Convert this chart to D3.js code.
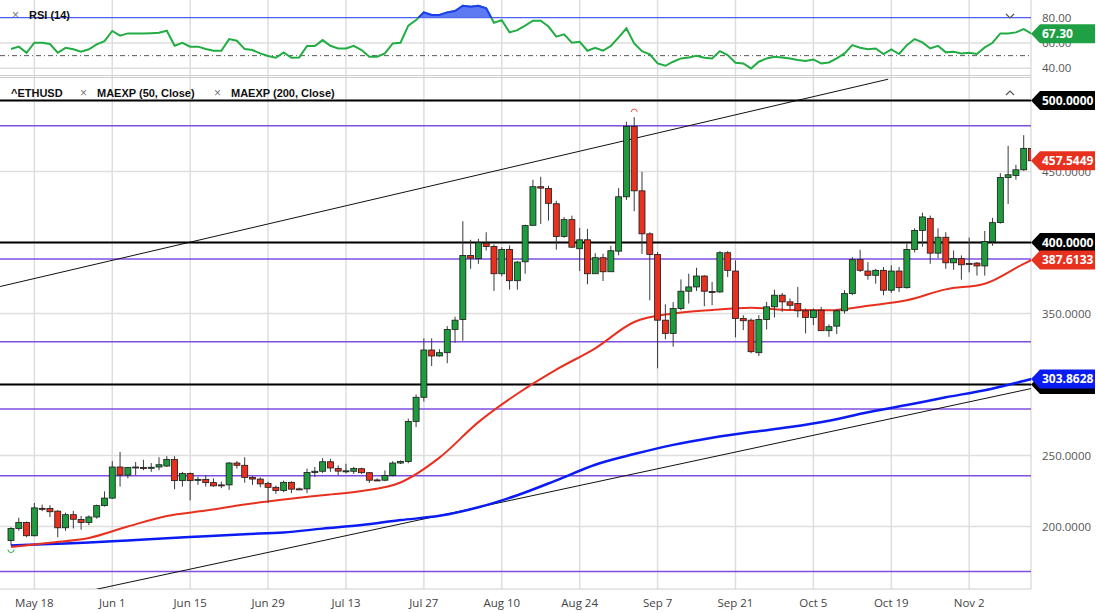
<!DOCTYPE html>
<html>
<head>
<meta charset="utf-8">
<script src="https://cdn.jsdelivr.net/npm/d3@7"></script>
<style>
  body { margin: 0; background: #fff; }
  svg { display: block; }
</style>
</head>
<body>
<div id="chart"></div>
<script>
// ETHUSD daily (weekdays), May 13 - Nov 12 2020
const firstDay = "2020-05-13", lastDay = "2020-11-13";
const tickLabels = ["May 18", "Jun 1", "Jun 15", "Jun 29", "Jul 13", "Jul 27", "Aug 10",
  "Aug 24", "Sep 7", "Sep 21", "Oct 5", "Oct 19", "Nov 2"];

const opens = [190.1,198.6,202.8,193.5,212.8,212.7,210.8,199.1,208.3,205.0,
  202.8,206.7,214.7,220.0,241.9,236.2,241.5,241.5,241.3,241.9,
  242.6,247.2,232.3,237.3,233.0,233.2,230.9,229.3,229.3,244.7,
  243.1,234.6,233.4,230.4,227.6,225.3,231.1,226.5,226.5,238.0,
  238.9,245.6,240.8,238.9,238.9,240.7,237.9,232.8,232.6,236.0,
  244.7,245.8,274.0,291.0,324.3,320.1,322.4,338.8,345.8,390.9,
  388.6,399.5,397.2,378.0,395.1,373.1,386.4,412.1,439.3,438.1,
  427.3,404.2,416.1,395.6,401.9,378.0,389.3,379.4,393.9,432.2,
  481.8,436.4,406.1,391.6,345.3,336.0,353.5,365.7,368.7,376.4,
  365.5,365.2,392.8,379.9,346.5,345.3,322.4,345.8,354.7,362.9,
  358.2,357.0,351.9,347.2,352.3,337.9,341.1,351.9,364.0,387.9,
  379.9,376.9,380.4,366.4,379.9,368.2,395.1,408.5,417.0,392.5,
  403.7,385.7,388.6,385.3,385.5,383.5,400.7,414.0,445.8,447.2,
  451.2,466.3];
const highs = [199.5,206.2,203.5,216.6,215.4,215.0,211.5,209.7,211.0,207.4,
  207.8,215.4,224.7,246.0,252.5,242.0,245.4,247.0,244.7,248.8,
  249.5,249.5,238.5,238.0,235.0,236.2,233.9,231.6,245.4,246.1,
  248.8,235.5,234.6,231.6,228.8,232.3,231.8,227.4,240.8,241.9,
  248.2,247.7,243.1,244.2,242.0,241.4,238.4,233.9,239.5,246.0,
  246.5,276.0,293.0,332.5,332.5,324.8,341.1,347.7,415.0,401.9,
  402.6,407.2,398.6,396.7,397.9,386.9,412.6,444.2,446.3,440.0,
  429.4,417.8,418.9,410.3,409.6,392.5,392.1,397.7,438.3,485.0,
  488.3,449.8,407.2,393.2,356.5,358.0,374.0,378.0,382.2,376.9,
  372.2,393.9,393.9,387.4,348.8,346.5,348.8,358.2,366.8,364.5,
  360.5,368.7,353.5,353.5,354.7,342.3,352.8,366.4,389.7,394.9,
  386.2,381.5,382.7,383.9,382.7,399.1,410.0,421.0,419.0,410.0,
  407.2,394.4,390.9,403.5,386.2,408.1,417.4,448.8,468.1,454.7,
  475.6,470.0];
const lows = [186.6,197.0,192.4,193.0,210.8,206.7,192.4,197.0,198.6,197.7,
  200.9,205.5,214.0,219.4,228.1,233.9,236.2,239.6,238.5,239.6,
  241.9,226.3,228.1,218.4,229.3,228.1,228.1,227.0,225.8,240.8,
  230.9,229.3,227.6,216.6,223.0,224.0,223.5,225.8,223.5,235.0,
  237.7,238.5,236.2,237.3,237.0,237.0,230.7,232.0,231.9,235.3,
  244.0,244.5,270.0,288.0,313.0,319.6,315.0,329.4,330.8,381.5,
  385.0,394.4,365.9,376.2,366.8,366.8,378.0,411.9,413.1,415.4,
  394.9,403.3,396.3,379.9,370.6,378.0,372.9,379.4,390.9,429.9,
  422.0,392.0,359.3,311.4,331.8,326.6,352.3,357.0,365.9,355.1,
  355.8,364.5,375.7,333.2,338.3,322.0,320.1,338.8,347.2,351.2,
  352.3,347.2,336.0,341.8,337.9,333.6,335.5,350.0,362.9,379.2,
  373.8,371.0,362.9,364.5,365.2,367.5,393.0,397.0,385.0,389.0,
  381.5,380.8,373.8,379.0,376.7,376.7,397.7,413.3,427.2,444.2,
  450.5,455.0];
const closes = [198.6,202.8,193.5,213.1,212.5,210.4,199.1,208.3,205.1,202.8,
  206.7,214.7,220.0,241.9,236.2,241.5,241.9,241.3,241.7,243.5,
  247.2,232.3,237.3,232.3,233.2,230.9,228.6,229.1,244.7,243.1,
  234.6,233.4,230.0,227.6,225.3,231.1,226.3,226.3,238.0,238.9,
  245.6,241.2,239.0,239.2,240.8,237.9,232.6,232.4,236.0,244.7,
  245.8,274.0,291.0,324.3,320.1,322.4,338.8,345.3,390.9,389.0,
  399.8,397.2,378.0,395.1,373.1,386.2,411.9,439.3,438.3,427.6,
  404.2,416.1,396.7,401.9,378.0,389.3,379.4,394.2,432.2,481.8,
  436.4,406.1,391.6,345.3,336.0,353.5,365.7,368.7,376.4,365.7,
  365.0,392.8,380.4,346.5,344.9,323.1,345.8,354.7,362.9,358.2,
  355.8,351.9,347.2,352.3,337.9,340.7,351.9,364.0,387.9,380.4,
  376.9,380.4,366.4,379.9,368.2,395.1,408.5,418.0,392.5,403.7,
  385.7,388.6,384.3,384.6,383.5,400.7,414.0,445.8,447.7,451.2,
  466.3,457.5449];

// RSI (14), one value per candle
const rsi = [55.2,57.1,52.3,60.2,60.2,59.2,52.3,56.2,55.0,53.1,
  55.0,58.9,61.5,69.5,65.8,67.6,67.6,67.6,67.8,68.1,
  69.7,57.8,60.2,57.1,57.1,55.2,53.9,53.9,63.1,61.8,
  55.2,54.4,51.8,49.7,48.3,52.6,48.3,48.6,57.6,57.6,
  62.3,57.8,55.7,55.7,57.8,54.4,49.2,49.2,51.8,59.7,
  60.2,73.7,78.1,84.2,82.1,82.1,84.2,85.3,89.5,88.7,
  89.5,87.4,76.0,78.1,68.4,70.2,73.7,77.6,77.6,73.0,
  65.0,66.8,60.2,61.0,53.9,56.2,53.9,57.6,64.4,71.6,
  59.7,53.6,51.0,43.8,42.0,45.2,47.8,48.6,49.9,48.3,
  47.8,53.6,50.5,44.4,43.8,39.9,45.2,47.8,49.1,48.6,
  47.8,46.5,45.7,47.0,43.8,44.6,47.8,51.8,58.3,56.2,
  55.0,55.7,51.3,55.0,51.3,58.3,63.1,60.5,55.7,57.8,
  52.6,53.1,51.8,52.3,51.3,56.5,60.2,67.6,67.6,68.4,
  71.0,67.3];

// exponential moving averages read at every 5th candle (+ last)
const maIdx = [0,5,10,15,20,25,30,35,40,45,50,55,60,65,70,75,80,85,90,95,100,105,110,115,120,125,130,131];
const ma50 = [185.5,188.6,191.9,200.0,207.4,211.2,215.5,219.0,222.0,225.0,231.0,248.5,273.5,293.5,
  310.5,325.5,344.0,350.0,352.5,354.0,352.5,352.3,355.5,359.3,367.0,371.0,385.0,387.6133];
const ma200 = [186.6,187.7,188.7,190.2,191.8,193.2,194.6,195.8,198.5,201.0,204.5,207.5,213.5,222.0,
  232.5,243.5,251.0,257.5,262.5,266.5,270.0,274.5,280.5,285.5,291.0,296.0,302.5,303.8628];

// drawn levels
const purpleLevels = [482.3, 388.4, 330.1, 282.7, 235.7, 168.3];
const blackLevels = [500, 400, 300];
const priceTicks = [200, 250, 300, 350, 400, 450, 500];
const trendLines = [
  { i0: -1.4, p0: 369.0, i1: 112.6, p1: 515.0 },
  { i0: 10.8, p0: 155.6, i1: 131.0, p1: 297.2 }
];

const W = 1096, H = 613, XR = 1031, MAIN_TOP = 78, MAIN_BOT = 589, RSI_BOT = 75;
const GREEN = "#1e9b3d", RED = "#e8301f", BLUE = "#0b1cf2", PURPLE = "#7e4fe0";
const AXIS_FONT = "'Open Sans', 'Noto Sans', sans-serif";
const LEG_FONT = "'Liberation Sans', Arial, sans-serif";

const dates = d3.utcDays(new Date(firstDay), new Date(lastDay)).filter(d => d.getUTCDay() % 6 !== 0);
const fmt = d3.utcFormat("%b %-d");

const x = d3.scaleLinear().domain([0, 131]).range([11, 1031.5]);
const y = d3.scaleLinear().domain([200, 500]).range([526.5, 100.5]);
const yr = d3.scaleLinear().domain([40, 80]).range([68.3, 17.7]);

const svg = d3.select("#chart").append("svg").attr("width", W).attr("height", H)
  .style("font-family", AXIS_FONT);
const defs = svg.append("defs");
defs.append("clipPath").attr("id", "clipMain").append("rect")
  .attr("x", 0).attr("y", MAIN_TOP).attr("width", XR).attr("height", MAIN_BOT - MAIN_TOP);
defs.append("clipPath").attr("id", "clipRsi").append("rect")
  .attr("x", 0).attr("y", 0).attr("width", XR).attr("height", RSI_BOT);
defs.append("clipPath").attr("id", "clipOver").append("rect")
  .attr("x", 0).attr("y", 0).attr("width", XR).attr("height", yr(80));

// grid
const tickIdx = tickLabels.map(t => dates.findIndex(d => fmt(d) === t));
svg.append("g").selectAll("line").data(tickIdx).join("line")
  .attr("x1", d => x(d)).attr("x2", d => x(d)).attr("y1", 0).attr("y2", MAIN_BOT)
  .attr("stroke", "#dedede").attr("stroke-width", 1.5);
svg.append("g").selectAll("line").data(priceTicks).join("line")
  .attr("x1", 0).attr("x2", XR).attr("y1", d => y(d)).attr("y2", d => y(d))
  .attr("stroke", "#dedede").attr("stroke-width", 1.5);
svg.append("g").selectAll("line").data([40, 60]).join("line")
  .attr("x1", 0).attr("x2", XR).attr("y1", d => yr(d)).attr("y2", d => yr(d))
  .attr("stroke", "#dedede").attr("stroke-width", 1.5);

// frame
svg.append("line").attr("x1", XR).attr("x2", XR).attr("y1", 0).attr("y2", MAIN_BOT).attr("stroke", "#cfcfcf");
svg.append("line").attr("x1", 0).attr("x2", XR).attr("y1", MAIN_BOT).attr("y2", MAIN_BOT).attr("stroke", "#cfcfcf");
[RSI_BOT + 0.5, MAIN_TOP - 0.5].forEach(v => svg.append("line").attr("x1", 0).attr("x2", XR)
  .attr("y1", v).attr("y2", v).attr("stroke", "#cfcfcf"));

// ---- RSI panel ----
const rsiG = svg.append("g").attr("clip-path", "url(#clipRsi)");
rsiG.append("line").attr("x1", 0).attr("x2", XR).attr("y1", yr(50)).attr("y2", yr(50))
  .attr("stroke", "#555").attr("stroke-dasharray", "5,3,1,3");
rsiG.append("line").attr("x1", 0).attr("x2", XR).attr("y1", yr(80)).attr("y2", yr(80))
  .attr("stroke", "#4b5cf0").attr("stroke-width", 1.2);
const rsiLine = d3.line().x((d, i) => x(i)).y(d => yr(d));
rsiG.append("path").datum(rsi).attr("d", rsiLine).attr("fill", "none")
  .attr("stroke", "#21ad43").attr("stroke-width", 2);
const over = svg.append("g").attr("clip-path", "url(#clipOver)");
over.append("path").datum(rsi)
  .attr("d", d3.area().x((d, i) => x(i)).y0(yr(80)).y1(d => yr(d)))
  .attr("fill", "#5d7af2");
over.append("path").datum(rsi).attr("d", rsiLine).attr("fill", "none")
  .attr("stroke", "#1d3ff0").attr("stroke-width", 2);

// ---- price panel ----
const main = svg.append("g").attr("clip-path", "url(#clipMain)");
main.append("g").selectAll("line").data(purpleLevels).join("line")
  .attr("x1", 0).attr("x2", XR).attr("y1", d => y(d)).attr("y2", d => y(d))
  .attr("stroke", PURPLE).attr("stroke-width", 1.5);
main.append("g").selectAll("line").data(trendLines).join("line")
  .attr("x1", d => x(d.i0)).attr("y1", d => y(d.p0)).attr("x2", d => x(d.i1)).attr("y2", d => y(d.p1))
  .attr("stroke", "#111").attr("stroke-width", 1);
main.append("g").selectAll("line").data(blackLevels).join("line")
  .attr("x1", 0).attr("x2", XR).attr("y1", d => y(d)).attr("y2", d => y(d))
  .attr("stroke", "#000").attr("stroke-width", 2);

const maLine = d3.line().curve(d3.curveMonotoneX).x((d, i) => x(maIdx[i])).y(d => y(d));
main.append("path").datum(ma200).attr("d", maLine).attr("fill", "none").attr("stroke", BLUE).attr("stroke-width", 2.5);
main.append("path").datum(ma50).attr("d", maLine).attr("fill", "none").attr("stroke", RED).attr("stroke-width", 2);

const candles = dates.map((d, i) => ({ i, o: opens[i], h: highs[i], l: lows[i], c: closes[i] }));
const cg = main.append("g").selectAll("g").data(candles).join("g");
cg.append("line").attr("x1", d => x(d.i)).attr("x2", d => x(d.i))
  .attr("y1", d => y(d.h)).attr("y2", d => y(d.l)).attr("stroke", "#3a3a3a").attr("stroke-width", 1);
cg.append("rect")
  .attr("x", d => x(d.i) - 3).attr("width", 6)
  .attr("y", d => y(Math.max(d.o, d.c)))
  .attr("height", d => Math.max(1, Math.abs(y(d.o) - y(d.c))))
  .attr("fill", d => d.c >= d.o ? GREEN : RED)
  .attr("stroke", "#1a1a1a").attr("stroke-width", 0.8);

// high / low markers
const hiIdx = d3.maxIndex(highs), loIdx = d3.minIndex(lows);
main.append("path")
  .attr("d", `M${x(hiIdx) - 3},${y(highs[hiIdx]) - 5} a3,3 0 0 1 6,0`)
  .attr("fill", "none").attr("stroke", "#f05a4a").attr("stroke-width", 1);
main.append("path")
  .attr("d", `M${x(loIdx) - 3},${y(lows[loIdx]) + 4} a3,3 0 0 0 6,0`)
  .attr("fill", "none").attr("stroke", "#2bb04a").attr("stroke-width", 1);

// ---- right axis ----
const axisText = (yy, txt) => svg.append("text").attr("x", 1042).attr("y", yy).attr("dy", "0.35em")
  .attr("font-size", 11.5).attr("fill", "#555").text(txt);
[40, 60, 80].forEach(v => axisText(yr(v), d3.format(".2f")(v)));
// levels that carry a black tag show no plain label
priceTicks.filter(v => !blackLevels.includes(v)).forEach(v => axisText(y(v), d3.format(".4f")(v)));

function tag(yy, txt, fill) {
  svg.append("path")
    .attr("d", `M${XR},${yy} L${XR + 9},${yy - 9.5} L1095,${yy - 9.5} L1095,${yy + 9.5} L${XR + 9},${yy + 9.5} Z`)
    .attr("fill", fill);
  svg.append("text").attr("x", 1042).attr("y", yy).attr("dy", "0.36em")
    .attr("font-size", 12).attr("font-weight", "bold").attr("fill", "#fff").text(txt);
}
tag(yr(rsi[rsi.length - 1]), d3.format(".2f")(rsi[rsi.length - 1]), "#1fa045");
blackLevels.filter(v => v !== 300).forEach(v => tag(y(v), d3.format(".4f")(v), "#000"));
// 300 tag sits behind the blue MA tag: only its edge shows
svg.append("path")
  .attr("d", `M${XR},${y(300)} L${XR + 9},${y(300) - 9.5} L1095,${y(300) - 9.5} L1095,${y(300) + 9.5} L${XR + 9},${y(300) + 9.5} Z`)
  .attr("fill", "#000");
tag(y(closes[closes.length - 1]), d3.format(".4f")(closes[closes.length - 1]), "#e8301f");
tag(y(ma50[ma50.length - 1]), d3.format(".4f")(ma50[ma50.length - 1]), "#e8301f");
tag(y(ma200[ma200.length - 1]), d3.format(".4f")(ma200[ma200.length - 1]), "#0b1cf2");

// ---- bottom axis ----
svg.append("g").selectAll("text").data(tickIdx).join("text")
  .attr("x", d => x(d)).attr("y", 603).attr("dy", "0.35em").attr("text-anchor", "middle")
  .attr("font-size", 11.5).attr("fill", "#444").text((d, i) => tickLabels[i]);

// ---- legends ----
const legend = (xx, yy, txt, bold) => svg.append("text").attr("x", xx).attr("y", yy).attr("dy", "0.35em")
  .attr("font-family", LEG_FONT).attr("font-size", bold ? 11 : 12)
  .attr("font-weight", bold ? "bold" : "normal").attr("fill", bold ? "#111" : "#777").text(txt);
legend(12, 15, "×", false);
legend(29, 15, "RSI (14)", true);
legend(11, 93, "^ETHUSD", true);
legend(80, 93, "×", false);
legend(97, 93, "MAEXP (50, Close)", true);
legend(214, 93, "×", false);
legend(231, 93, "MAEXP (200, Close)", true);

// collapse chevrons
svg.append("path").attr("d", "M1006,14 l4,4 l4,-4").attr("fill", "none").attr("stroke", "#555").attr("stroke-width", 1.2);
svg.append("path").attr("d", "M1006,95 l4,-4 l4,4").attr("fill", "none").attr("stroke", "#555").attr("stroke-width", 1.2);
</script>
</body>
</html>
